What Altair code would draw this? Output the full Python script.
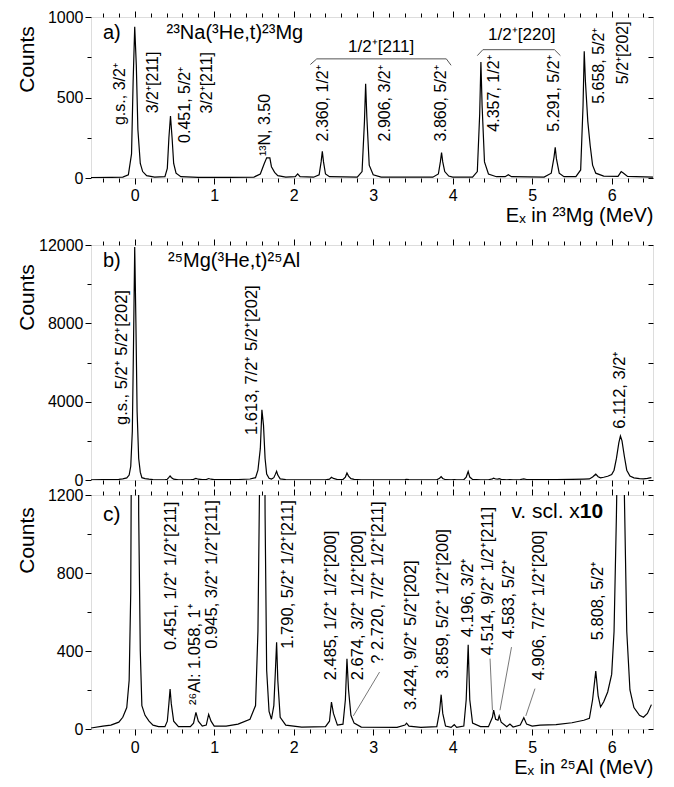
import altair as alt
import pandas as pd

FONT = "Liberation Sans"

# ---------------- spectra ----------------
a_energy = [-0.55, -0.3, -0.15, -0.08, -0.04, -0.02, 0.0, 0.02, 0.04, 0.07, 0.1, 0.15, 0.25,
            0.38, 0.41, 0.43, 0.45, 0.47, 0.49, 0.52, 0.58, 0.8, 1.2, 1.5, 1.58, 1.63, 1.66,
            1.70, 1.72, 1.76, 1.80, 1.9, 2.02, 2.05, 2.08, 2.25, 2.32, 2.345, 2.36, 2.375, 2.40,
            2.45, 2.8, 2.86, 2.89, 2.905, 2.92, 2.95, 3.0, 3.1, 3.75, 3.82, 3.845, 3.86, 3.875,
            3.9, 3.95, 4.0, 4.25, 4.31, 4.34, 4.355, 4.37, 4.4, 4.45, 4.55, 4.66, 4.7, 4.74,
            5.15, 5.24, 5.275, 5.29, 5.305, 5.34, 5.4, 5.55, 5.61, 5.64, 5.655, 5.67, 5.7,
            5.73, 5.76, 5.8, 5.9, 6.08, 6.12, 6.15, 6.2, 6.52]
a_counts = [3, 4, 6, 20, 150, 600, 940, 700, 300, 90, 40, 15, 6,
            8, 60, 250, 385, 250, 90, 30, 8, 4, 4, 6, 25, 90, 125,
            125, 70, 35, 15, 6, 8, 25, 8, 5, 20, 100, 165, 100, 25,
            8, 6, 40, 350, 585, 380, 80, 20, 6, 5, 25, 100, 158, 100,
            40, 12, 5, 6, 40, 400, 720, 450, 100, 25, 8, 8, 20, 8,
            6, 30, 130, 190, 120, 30, 8, 8, 50, 450, 787, 600, 350,
            200, 80, 30, 12, 10, 40, 30, 10, 5]

bc_energy = [-0.55, -0.4, -0.3, -0.2, -0.15, -0.1, -0.07, -0.05, -0.03, -0.015, 0.0, 0.015,
             0.03, 0.05, 0.07, 0.09, 0.13, 0.18, 0.23, 0.3, 0.38, 0.41, 0.43, 0.445, 0.46,
             0.49, 0.55, 0.7, 0.74, 0.77, 0.8, 0.85, 0.9, 0.93, 0.96, 1.0, 1.15, 1.3, 1.45,
             1.52, 1.55, 1.58, 1.6, 1.62, 1.64, 1.66, 1.69, 1.72, 1.75, 1.77, 1.785, 1.80,
             1.83, 1.9, 2.1, 2.4, 2.45, 2.475, 2.50, 2.55, 2.62, 2.65, 2.67, 2.69, 2.72, 2.76,
             2.85, 3.3, 3.4, 3.42, 3.45, 3.6, 3.8, 3.835, 3.855, 3.875, 3.91, 3.98, 4.02,
             4.05, 4.14, 4.17, 4.195, 4.215, 4.25, 4.35, 4.45, 4.5, 4.515, 4.54, 4.57, 4.585,
             4.61, 4.68, 4.72, 4.76, 4.85, 4.895, 4.93, 5.0, 5.1, 5.3, 5.5, 5.65, 5.72, 5.76,
             5.80, 5.83, 5.86, 5.9, 5.95, 6.0, 6.03, 6.06, 6.09, 6.11, 6.13, 6.16, 6.19, 6.23,
             6.28, 6.35, 6.4, 6.45, 6.5]
bc_counts = [5, 15, 20, 35, 60, 110, 250, 700, 2500, 7000, 11900, 8000,
             3500, 1100, 400, 120, 70, 40, 20, 12, 12, 40, 130, 205, 130,
             40, 12, 12, 30, 85, 40, 15, 20, 75, 40, 15, 15, 25, 50,
             120, 500, 1600, 3580, 2800, 1100, 300, 90, 50, 120, 300, 445, 250,
             60, 20, 10, 12, 40, 138, 80, 20, 25, 150, 360, 200, 70, 30,
             10, 8, 20, 30, 15, 8, 12, 90, 176, 80, 15, 8, 22,
             8, 15, 150, 432, 150, 30, 12, 12, 60, 97, 50, 45, 67,
             35, 12, 25, 10, 20, 58, 25, 15, 20, 22, 32, 45, 55, 150,
             297, 170, 113, 140, 190, 280, 500, 1100, 1900, 2250, 2000, 1200, 500, 200,
             110, 70, 60, 80, 125]

# ---------------- axes ----------------
x_ticks = [-0.4, -0.2, 0.0, 0.2, 0.4, 0.6, 0.8, 1.0, 1.2, 1.4, 1.6, 1.8, 2.0, 2.2, 2.4, 2.6,
           2.8, 3.0, 3.2, 3.4, 3.6, 3.8, 4.0, 4.2, 4.4, 4.6, 4.8, 5.0, 5.2, 5.4, 5.6, 5.8,
           6.0, 6.2, 6.4]
ya_ticks = [0, 250, 500, 750, 1000]
yb_ticks = [0, 2000, 4000, 6000, 8000, 10000, 12000]
yc_ticks = [0, 200, 400, 600, 800, 1000, 1200]

# ---------------- annotations ----------------
a_lab_E = [-0.18, 0.226, 0.63, 0.905, 1.637, 2.37, 3.145, 3.857, 4.526, 5.28, 5.846, 6.14]
a_lab_C = [329, 402, 218, 400, 136, 227, 227, 227, 288, 288, 461, 583]
a_lab_T = ["g.s., 3/2⁺", "3/2⁺[211]", "0.451, 5/2⁺", "3/2⁺[211]", "¹³N, 3.50",
           "2.360, 1/2⁺", "2.906, 3/2⁺", "3.860, 5/2⁺", "4.357, 1/2⁺", "5.291, 5/2⁺",
           "5.658, 5/2⁺", "5/2⁺[202]"]
a_head_E = [-0.40, 0.40]
a_head_C = [898, 898]
a_head_T = ["a)", "²³Na(³He,t)²³Mg"]
a_band_E = [3.10, 4.87]
a_band_C = [815, 888]
a_band_T = ["1/2⁺[211]", "1/2⁺[220]"]
a_brk_E1 = [2.21, 2.29, 3.92, 4.31, 4.38, 5.28]
a_brk_C1 = [705, 740, 740, 760, 797, 797]
a_brk_E2 = [2.29, 3.92, 3.98, 4.38, 5.28, 5.355]
a_brk_C2 = [740, 740, 700, 797, 797, 760]

b_lab_E = [-0.16, 1.475, 6.10]
b_lab_C = [2810, 2300, 2620]
b_lab_T = ["g.s., 5/2⁺ 5/2⁺[202]", "1.613, 7/2⁺ 5/2⁺[202]", "6.112, 3/2⁺"]
b_head_E = [-0.40, 0.42]
b_head_C = [11180, 11180]
b_head_T = ["b)", "²⁵Mg(³He,t)²⁵Al"]

c_lab_E = [0.46, 0.76, 0.97, 1.93, 2.475, 2.81, 3.06, 3.48, 3.88, 4.19, 4.44, 4.71, 5.09, 5.83]
c_lab_C = [405, 123, 412, 412, 250, 250, 335, 97, 258, 472, 378, 463, 250, 455]
c_lab_T = ["0.451, 1/2⁺ 1/2⁺[211]", "²⁶Al: 1.058, 1⁺", "0.945, 3/2⁺ 1/2⁺[211]",
           "1.790, 5/2⁺ 1/2⁺[211]", "2.485, 1/2⁺ 1/2⁺[200]", "2.674, 3/2⁺ 1/2⁺[200]",
           "? 2.720, 7/2⁺ 1/2⁺[211]", "3.424, 9/2⁺ 5/2⁺[202]", "3.859, 5/2⁺ 1/2⁺[200]",
           "4.196, 3/2⁺", "4.514, 9/2⁺ 1/2⁺[211]", "4.583, 5/2⁺", "4.906, 7/2⁺ 1/2⁺[200]",
           "5.808, 5/2⁺"]
c_lead_E1 = [3.08, 4.47, 4.74, 5.035]
c_lead_C1 = [292, 361, 420, 207]
c_lead_E2 = [2.75, 4.50, 4.595, 4.92]
c_lead_C2 = [67, 96, 96, 67]
c_head_E = [-0.40]
c_head_C = [1100]
c_head_T = ["c)"]
c_scl_E = [5.60, 5.60]
c_scl_C = [1113, 1113]
c_scl_T = ["v. scl. x", "10"]

# ---------------- helpers ----------------
XDOM = [-0.55, 6.52]
W = 562
MAJOR_X = "abs(datum.value - round(datum.value)) < 0.01"


def xs():
    return alt.Scale(domain=XDOM, nice=False, zero=False)


def ysc(dom):
    return alt.Scale(domain=dom, nice=False, zero=False)


def x_axis(orient, labels, title=None, label_pad=3, title_pad=2, top_title_pad=None):
    kw = dict(orient=orient, values=x_ticks, domain=False, grid=False,
              tickColor="black", tickWidth=1,
              tickSize={"condition": {"test": MAJOR_X, "value": 6}, "value": 4},
              labels=labels)
    if labels:
        kw.update(labelExpr=MAJOR_X + " ? format(round(datum.value), 'd') : ''",
                  labelFont=FONT, labelFontSize=16, labelColor="black",
                  labelPadding=label_pad, labelOverlap=False, labelFlush=False)
    if title is not None:
        kw.update(title=title, titleFont=FONT, titleFontSize=20, titleFontWeight="normal",
                  titleColor="black", titleAnchor="end", titlePadding=title_pad)
    elif top_title_pad is not None:
        kw.update(title=".", titleOpacity=0, titleFontSize=10, titlePadding=top_title_pad)
    else:
        kw.update(title=None)
    return alt.Axis(**kw)


def y_left(vals, mod, title_y):
    return alt.Axis(orient="left", values=vals, domain=False, grid=False, format="d",
                    tickColor="black", tickWidth=1,
                    tickSize={"condition": {"test": f"datum.value % {mod} === 0", "value": 6},
                              "value": 4},
                    labelExpr=f"datum.value % {mod} === 0 ? datum.label : ''",
                    labelFont=FONT, labelFontSize=16, labelColor="black", labelPadding=2,
                    labelOverlap=False, labelFlush=False,
                    title="Counts", titleFont=FONT, titleFontSize=21,
                    titleFontWeight="normal", titleColor="black", titleAngle=270,
                    titleX=-64, titleY=title_y, titleAlign="center", titleBaseline="middle")


def y_right(vals):
    return alt.Axis(orient="right", values=vals, domain=False, grid=False, labels=False,
                    tickColor="black", tickWidth=1, tickSize=5, offset=-5, title=None)


def text_layer(E, C, T, ydom, size, angle=None, align="left", weight="normal"):
    df = pd.DataFrame({"E": E, "C": C, "T": T})
    kw = dict(align=align, baseline="middle", font=FONT, fontSize=size,
              color="black", fontWeight=weight)
    if angle is not None:
        kw["angle"] = angle
    return alt.Chart(df).mark_text(**kw).encode(
        x=alt.X("E:Q", scale=xs(), axis=None),
        y=alt.Y("C:Q", scale=ysc(ydom), axis=None),
        text="T:N")


def seg_layer(E1, C1, E2, C2, ydom, color, width):
    df = pd.DataFrame({"E": E1, "C": C1, "E2": E2, "C2": C2})
    return alt.Chart(df).mark_rule(color=color, strokeWidth=width).encode(
        x=alt.X("E:Q", scale=xs(), axis=None),
        y=alt.Y("C:Q", scale=ysc(ydom), axis=None),
        x2="E2:Q", y2="C2:Q")


def panel(energy, counts, ydom, yvals, mod, h, title_y, bottom_axis, top_axis, extra):
    spec = pd.DataFrame({"E": energy, "C": counts})
    line = alt.Chart(spec).mark_line(color="black", strokeWidth=1.2, clip=True).encode(
        x=alt.X("E:Q", scale=xs(), axis=bottom_axis),
        y=alt.Y("C:Q", scale=ysc(ydom), axis=y_left(yvals, mod, title_y)))
    ghost = alt.Chart(spec).mark_line(opacity=0, clip=True).encode(
        x=alt.X("E:Q", scale=xs(), axis=top_axis),
        y=alt.Y("C:Q", scale=ysc(ydom), axis=y_right(yvals)))
    return alt.layer(line, ghost, *extra).resolve_axis(
        x="independent", y="independent").properties(width=W, height=h)


# ---------------- panels ----------------
YA = [0, 1000]
YB = [0, 12000]
YC = [0, 1200]

pa = panel(a_energy, a_counts, YA, ya_ticks, 500, 161, 42,
           x_axis("bottom", True, title="Eₓ in ²³Mg (MeV)", label_pad=3, title_pad=2),
           x_axis("top", False),
           [text_layer(a_lab_E, a_lab_C, a_lab_T, YA, 16, angle=270),
            text_layer(a_head_E, a_head_C, a_head_T, YA, 20),
            text_layer(a_band_E, a_band_C, a_band_T, YA, 17, align="center"),
            seg_layer(a_brk_E1, a_brk_C1, a_brk_E2, a_brk_C2, YA, "#555555", 1)])

pb = panel(bc_energy, bc_counts, YB, yb_ticks, 4000, 235, 52,
           x_axis("bottom", False),
           x_axis("top", False, top_title_pad=5),
           [text_layer(b_lab_E, b_lab_C, b_lab_T, YB, 16.5, angle=270),
            text_layer(b_head_E, b_head_C, b_head_T, YB, 20)])

pc = panel(bc_energy, bc_counts, YC, yc_ticks, 400, 234, 45,
           x_axis("bottom", True, title="Eₓ in ²⁵Al (MeV)", label_pad=4, title_pad=2),
           x_axis("top", False),
           [text_layer(c_lab_E, c_lab_C, c_lab_T, YC, 16.5, angle=270),
            seg_layer(c_lead_E1, c_lead_C1, c_lead_E2, c_lead_C2, YC, "#555555", 0.8),
            text_layer(c_head_E, c_head_C, c_head_T, YC, 21),
            text_layer(c_scl_E[:1], c_scl_C[:1], c_scl_T[:1], YC, 21, align="right"),
            text_layer(c_scl_E[1:], c_scl_C[1:], c_scl_T[1:], YC, 21, align="left",
                       weight="bold")])

chart = alt.vconcat(pa, pb, pc, spacing=-3).properties(
    padding={"left": 7, "top": 0, "right": 5, "bottom": 0}
).configure_view(stroke="black", strokeWidth=1).configure(background="white")

chart.save("out.html", embed_options={"renderer": "svg", "actions": False})
